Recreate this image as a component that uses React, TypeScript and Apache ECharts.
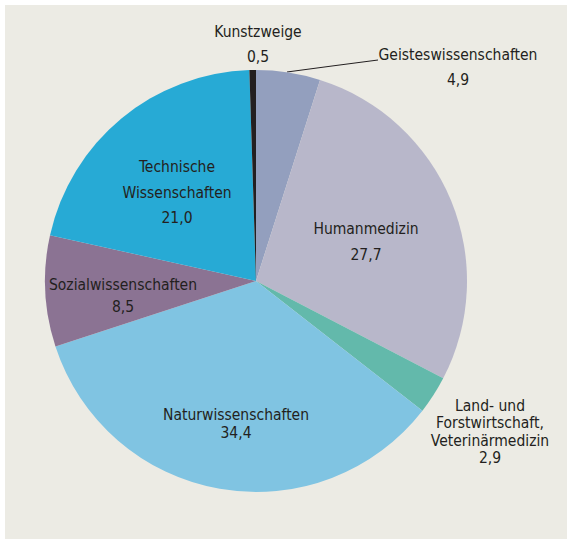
import React, { useEffect, useRef } from "react";
import * as echarts from "echarts";

// ---- data ----
const categories: string[] = [
  "Geisteswissenschaften",
  "Humanmedizin",
  "Land- und\nForstwirtschaft,\nVeterinärmedizin",
  "Naturwissenschaften",
  "Sozialwissenschaften",
  "Technische\nWissenschaften",
  "Kunstzweige",
];
const values: number[] = [4.9, 27.7, 2.9, 34.4, 8.5, 21.0, 0.5];

// ---- styling / layout (not data) ----
const sliceColors = ["#939fbe", "#b8b7ca", "#63b9ab", "#80c4e2", "#8b7393", "#27aad5", "#231f20"];
const labelCenters: number[][] = [
  [458, 67.5],
  [366, 242],
  [490, 432],
  [236, 424],
  [123, 296],
  [177, 192.5],
  [258, 44.5],
];
const lineHeights = [25, 26, 17.5, 18.5, 22, 25.5, 25];
const FONT = "'Liberation Sans Narrow', 'DejaVu Sans Condensed', 'Arial Narrow', sans-serif";

const fmt = (v: number) => v.toFixed(1).replace(".", ",");

export default function App() {
  const ref = useRef<HTMLDivElement>(null);
  useEffect(() => {
    if (!ref.current) return;
    const chart = echarts.init(ref.current, undefined, { renderer: "svg" });
    const data = categories.map((name, i) => ({
      name,
      value: values[i],
      itemStyle: { color: sliceColors[i] },
      label: {
        position: i === 0 ? "outside" : "inside",
        lineHeight: lineHeights[i],
      },
      labelLine: {
        show: i === 0,
        lineStyle: { color: "#231f20", width: 1 },
      },
    }));
    chart.setOption({
      animation: false,
      backgroundColor: "#ffffff",
      graphic: [
        {
          type: "rect",
          z: -10,
          silent: true,
          shape: { x: 5, y: 5, width: 562, height: 534 },
          style: { fill: "#ecebe4" },
        },
      ],
      series: [
        {
          type: "pie",
          center: [256, 281],
          radius: 211,
          startAngle: 90,
          clockwise: true,
          avoidLabelOverlap: false,
          itemStyle: { borderWidth: 0 },
          label: {
            show: true,
            color: "#231f20",
            fontFamily: FONT,
            fontSize: 15.5,
            align: "center",
            formatter: (p: any) => `${p.name}\n${fmt(p.value)}`,
          },
          labelLayout: (p: any) => {
            const i = p.dataIndex;
            const c = labelCenters[i];
            const out: any = { x: c[0], y: c[1], align: "center", verticalAlign: "middle" };
            if (i === 0) out.labelLinePoints = [[287, 72], [332, 66], [378, 60]];
            return out;
          },
          data,
        },
      ],
    });
    return () => chart.dispose();
  }, []);
  return (
    <div
      ref={ref}
      style={{ position: "absolute", left: 0, top: 0, width: 567, height: 539 }}
    />
  );
}
